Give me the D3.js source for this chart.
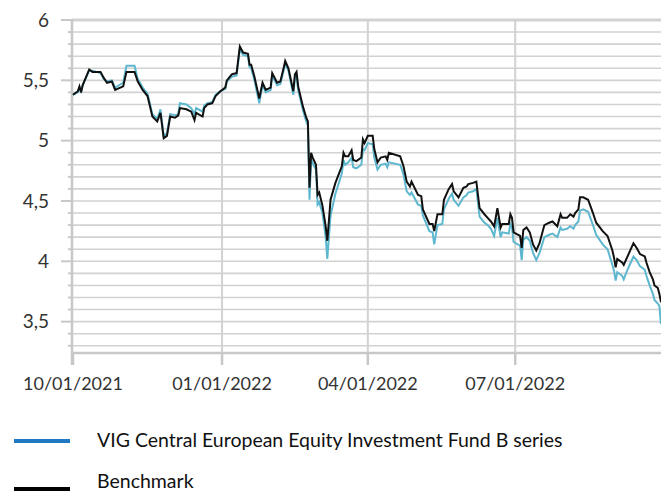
<html>
<head>
  <meta charset="utf-8" />
  <style>
    body { margin: 0; background: #fff; }
    svg text { font-family: Lato, "Noto Sans", sans-serif; fill: #333; }
  </style>
</head>
<body>
  <div id="chart"></div>
</body>
<script src="https://d3js.org/d3.v7.min.js"></script>
<script>

// chart values
const dates = [
  '2021-10-01','2021-10-04','2021-10-05','2021-10-06','2021-10-07','2021-10-11','2021-10-13','2021-10-18','2021-10-20','2021-10-22',
  '2021-10-25','2021-10-27','2021-11-01','2021-11-03','2021-11-08','2021-11-10','2021-11-13','2021-11-16','2021-11-19','2021-11-22',
  '2021-11-24','2021-11-26','2021-11-28','2021-11-30','2021-12-03','2021-12-05','2021-12-06','2021-12-10','2021-12-13','2021-12-15',
  '2021-12-16','2021-12-20','2021-12-21','2021-12-23','2021-12-26','2021-12-28','2021-12-31','2022-01-03','2022-01-04','2022-01-07',
  '2022-01-10','2022-01-11','2022-01-12','2022-01-14','2022-01-17','2022-01-18','2022-01-19','2022-01-21','2022-01-24','2022-01-26',
  '2022-01-28','2022-01-31','2022-02-01','2022-02-04','2022-02-06','2022-02-08','2022-02-09','2022-02-11','2022-02-14','2022-02-15',
  '2022-02-16','2022-02-17','2022-02-20','2022-02-22','2022-02-23','2022-02-24','2022-02-25','2022-02-26','2022-02-28','2022-03-01',
  '2022-03-02','2022-03-04','2022-03-06','2022-03-07','2022-03-09','2022-03-12','2022-03-16','2022-03-17','2022-03-18','2022-03-20',
  '2022-03-22','2022-03-23','2022-03-25','2022-03-28','2022-03-29','2022-03-30','2022-04-01','2022-04-04','2022-04-05','2022-04-07',
  '2022-04-09','2022-04-12','2022-04-13','2022-04-14','2022-04-21','2022-04-23','2022-04-25','2022-04-27','2022-04-28','2022-05-02',
  '2022-05-04','2022-05-05','2022-05-09','2022-05-11','2022-05-12','2022-05-14','2022-05-17','2022-05-18','2022-05-19','2022-05-21',
  '2022-05-23','2022-05-24','2022-05-27','2022-05-30','2022-06-01','2022-06-02','2022-06-05','2022-06-07','2022-06-09','2022-06-12',
  '2022-06-14','2022-06-16','2022-06-18','2022-06-20','2022-06-22','2022-06-23','2022-06-27','2022-06-28','2022-06-29','2022-06-30',
  '2022-07-04','2022-07-05','2022-07-06','2022-07-08','2022-07-10','2022-07-12','2022-07-14','2022-07-16','2022-07-19','2022-07-22',
  '2022-07-24','2022-07-27','2022-07-29','2022-07-30','2022-08-02','2022-08-04','2022-08-06','2022-08-07','2022-08-09','2022-08-10',
  '2022-08-12','2022-08-15','2022-08-18','2022-08-20','2022-08-24','2022-08-27','2022-08-30','2022-08-31','2022-09-01','2022-09-02',
  '2022-09-05','2022-09-06','2022-09-08','2022-09-10','2022-09-12','2022-09-14','2022-09-16','2022-09-19','2022-09-20','2022-09-22',
  '2022-09-24','2022-09-25','2022-09-27','2022-09-28','2022-09-29'
]

const benchmark = [
  5.38,5.41,5.45,5.40,5.46,5.59,5.57,5.57,5.52,5.48,
  5.49,5.42,5.45,5.57,5.57,5.49,5.42,5.37,5.20,5.16,
  5.23,5.02,5.04,5.20,5.19,5.21,5.27,5.26,5.24,5.17,
  5.23,5.20,5.27,5.30,5.31,5.37,5.41,5.44,5.50,5.55,
  5.56,5.67,5.78,5.73,5.72,5.63,5.63,5.53,5.35,5.48,
  5.42,5.44,5.56,5.48,5.49,5.60,5.66,5.60,5.41,5.55,
  5.57,5.45,5.28,5.19,5.16,4.61,4.90,4.86,4.80,4.55,
  4.57,4.46,4.29,4.17,4.51,4.65,4.79,4.90,4.87,4.87,
  4.92,4.84,4.83,4.86,5.01,4.98,5.04,5.04,4.93,4.82,
  4.86,4.87,4.84,4.90,4.87,4.79,4.66,4.62,4.66,4.55,
  4.54,4.43,4.31,4.31,4.25,4.39,4.39,4.51,4.54,4.60,
  4.64,4.58,4.53,4.61,4.62,4.64,4.65,4.66,4.44,4.39,
  4.36,4.33,4.29,4.44,4.28,4.31,4.31,4.39,4.36,4.24,
  4.21,4.11,4.26,4.28,4.24,4.14,4.09,4.15,4.30,4.32,
  4.33,4.29,4.39,4.36,4.36,4.39,4.37,4.40,4.43,4.53,
  4.53,4.51,4.40,4.32,4.25,4.21,4.09,4.03,3.95,4.02,
  3.99,3.97,4.03,4.09,4.15,4.11,4.06,4.04,3.99,3.91,
  3.85,3.80,3.78,3.73,3.66
]

const fund = [
  5.38,5.40,5.44,5.41,5.46,5.58,5.58,5.56,5.51,5.49,
  5.50,5.44,5.48,5.62,5.62,5.51,5.44,5.39,5.22,5.18,
  5.26,5.04,5.06,5.22,5.21,5.22,5.31,5.30,5.27,5.22,
  5.27,5.24,5.29,5.31,5.32,5.38,5.41,5.43,5.49,5.53,
  5.54,5.65,5.76,5.71,5.70,5.61,5.60,5.50,5.31,5.46,
  5.40,5.42,5.54,5.46,5.47,5.58,5.64,5.58,5.38,5.52,
  5.54,5.42,5.25,5.16,5.13,4.51,4.85,4.81,4.76,4.47,
  4.49,4.40,4.20,4.02,4.38,4.56,4.73,4.84,4.80,4.82,
  4.86,4.78,4.77,4.80,4.93,4.92,4.98,4.97,4.86,4.76,
  4.80,4.81,4.78,4.82,4.80,4.72,4.58,4.55,4.57,4.47,
  4.46,4.38,4.25,4.24,4.14,4.30,4.31,4.43,4.46,4.52,
  4.56,4.51,4.46,4.53,4.55,4.57,4.58,4.60,4.37,4.32,
  4.30,4.27,4.21,4.36,4.20,4.24,4.23,4.31,4.28,4.16,
  4.13,4.01,4.18,4.20,4.17,4.07,4.01,4.07,4.20,4.22,
  4.23,4.20,4.28,4.26,4.27,4.29,4.27,4.30,4.33,4.42,
  4.43,4.41,4.30,4.22,4.14,4.10,3.97,3.92,3.84,3.91,
  3.88,3.85,3.92,3.98,4.04,4.01,3.96,3.93,3.88,3.80,
  3.73,3.68,3.65,3.63,3.48
]

const yTicks = [3.5, 4, 4.5, 5, 5.5, 6]
const xTickDates = ['2021-10-01', '2022-01-01', '2022-04-01', '2022-07-01']
const xTickLabels = ['10/01/2021', '01/01/2022', '04/01/2022', '07/01/2022']
const seriesNames = ['VIG Central European Equity Investment Fund B series', 'Benchmark']

const W = 661, H = 494
const parse = d3.timeParse('%Y-%m-%d')

const x = d3.scaleTime()
  .domain([parse('2021-10-01'), parse('2022-09-29')])
  .range([73, 661])

const y = d3.scaleLinear()
  .domain([3.24, 6])
  .range([353, 20])

const svg = d3.select('#chart').append('svg')
  .attr('width', W)
  .attr('height', H)

const grid = '#d2d2d2'

// horizontal grid, every 0.1
const minor = d3.range(33, 61).map(d => d / 10)
svg.append('g').selectAll('line')
  .data(minor)
  .join('line')
  .attr('x1', 72).attr('x2', W)
  .attr('y1', d => y(d)).attr('y2', d => y(d))
  .attr('stroke', grid)
  .attr('stroke-width', d => d === 6 ? 3 : 1.6)

// vertical grid at quarters
svg.append('g').selectAll('line')
  .data(xTickDates.slice(1))
  .join('line')
  .attr('x1', d => x(parse(d))).attr('x2', d => x(parse(d)))
  .attr('y1', y(6)).attr('y2', y(3.24))
  .attr('stroke', grid)
  .attr('stroke-width', 2)

// left axis with major and minor ticks
const yAxis = svg.append('g')
yAxis.append('line')
  .attr('x1', 72).attr('x2', 72)
  .attr('y1', y(6) - 1).attr('y2', 365)
  .attr('stroke', '#c8c8c8').attr('stroke-width', 2.5)
yAxis.selectAll('line.minor')
  .data(minor)
  .join('line')
  .attr('class', 'minor')
  .attr('x1', d => yTicks.includes(d) ? 61 : 68).attr('x2', 72)
  .attr('y1', d => y(d)).attr('y2', d => y(d))
  .attr('stroke', '#c8c8c8').attr('stroke-width', 2)
yAxis.selectAll('text')
  .data(yTicks)
  .join('text')
  .attr('x', 49)
  .attr('y', d => y(d))
  .attr('dy', '0.36em')
  .attr('text-anchor', 'end')
  .style('font-size', '19px')
  .text(d => d3.format('.1~f')(d).replace('.', ','))

// bottom axis
const xAxis = svg.append('g')
xAxis.append('line')
  .attr('x1', 72).attr('x2', W)
  .attr('y1', 353).attr('y2', 353)
  .attr('stroke', '#c8c8c8').attr('stroke-width', 2.5)
xAxis.selectAll('line.tick')
  .data(xTickDates)
  .join('line')
  .attr('class', 'tick')
  .attr('x1', d => x(parse(d))).attr('x2', d => x(parse(d)))
  .attr('y1', 353).attr('y2', 365)
  .attr('stroke', '#c8c8c8').attr('stroke-width', 2.5)
xAxis.selectAll('text')
  .data(xTickDates)
  .join('text')
  .attr('x', d => x(parse(d)))
  .attr('y', 390)
  .attr('text-anchor', 'middle')
  .style('font-size', '18px')
  .text((d, i) => xTickLabels[i])

// lines
const rows = dates.map((d, i) => ({ date: parse(d), fund: fund[i], bench: benchmark[i] }))

svg.append('path')
  .datum(rows)
  .attr('fill', 'none')
  .attr('stroke', '#5db7cf')
  .attr('stroke-width', 2)
  .attr('d', d3.line().x(d => x(d.date)).y(d => y(d.fund)))

svg.append('path')
  .datum(rows)
  .attr('fill', 'none')
  .attr('stroke', '#111')
  .attr('stroke-width', 2)
  .attr('d', d3.line().x(d => x(d.date)).y(d => y(d.bench)))

// legend
const legendColors = ['#1f78c1', '#000']
const legend = svg.append('g').selectAll('g')
  .data(seriesNames)
  .join('g')
  .attr('transform', (d, i) => `translate(0, ${441 + i * 47})`)
legend.append('line')
  .attr('x1', 14).attr('x2', 70)
  .attr('y1', (d, i) => i ? 1 : 0).attr('y2', (d, i) => i ? 1 : 0)
  .attr('stroke', (d, i) => legendColors[i])
  .attr('stroke-width', 4)
legend.append('text')
  .attr('x', 97)
  .attr('dy', (d, i) => i ? '0' : '0.3em')
  .style('font-size', '19.5px')
  .style('fill', '#111')
  .text(d => d)

</script>
</html>
